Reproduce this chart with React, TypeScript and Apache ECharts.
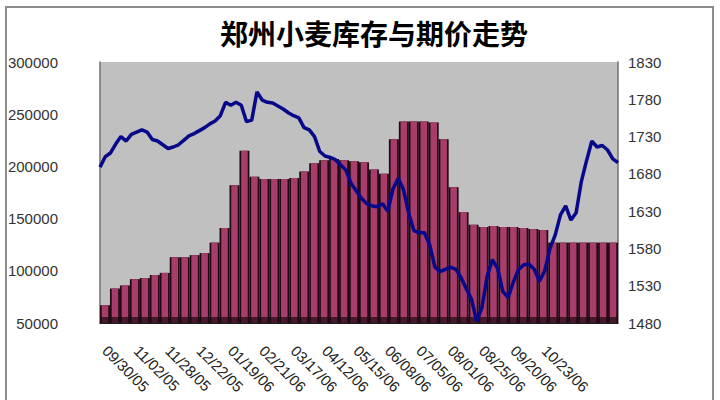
import { useEffect, useRef } from 'react';
import * as echarts from 'echarts';

const TITLE = '郑州小麦库存与期价走势';

// tick labels on the date axis, one every 6 price points starting at index 1
const dateLabels = [
  '09/30/05', '11/02/05', '11/28/05', '12/22/05', '01/19/06', '02/21/06', '03/17/06', '04/12/06',
  '05/15/06', '06/08/06', '07/05/06', '08/01/06', '08/25/06', '09/20/06', '10/23/06',
];
const LABEL_START = 1;
const LABEL_STEP = 6;

// weekly warehouse stock (left axis)
const stockWeekly = [
  67000, 83000, 86000, 92000, 93000, 96000, 98000, 113000, 113000, 115000,
  117000, 127000, 141000, 182000, 215000, 190000, 188000, 188000, 188000, 189000,
  195000, 203000, 206000, 207000, 206000, 205000, 204000, 197000, 193000, 226000,
  243000, 243000, 243000, 242000, 226000, 180000, 156000, 144000, 142000, 143000,
  142000, 142000, 141000, 140000, 139000, 127000, 127000, 127000, 127000, 127000,
  127000, 127000,
];

// futures price (right axis)
const futuresPrice = [
  1689, 1703, 1708, 1720, 1730, 1724, 1733, 1736, 1739, 1736,
  1726, 1724, 1719, 1714, 1716, 1719, 1725, 1731, 1734, 1738,
  1742, 1747, 1751, 1758, 1776, 1772, 1776, 1772, 1750, 1752,
  1790, 1779, 1776, 1775, 1771, 1767, 1762, 1758, 1755, 1742,
  1739, 1730, 1710, 1704, 1702, 1699, 1692, 1685, 1667, 1657,
  1647, 1640, 1637, 1636, 1640, 1630, 1660, 1674, 1659, 1627,
  1604, 1601, 1601, 1585, 1555, 1549, 1552, 1555, 1552, 1541,
  1526, 1512, 1482, 1501, 1543, 1565, 1553, 1522, 1514, 1535,
  1552, 1558, 1559, 1552, 1536, 1550, 1580, 1598, 1625, 1637,
  1618, 1628, 1670, 1698, 1724, 1716, 1718, 1712, 1700, 1695,
];

const STOCK_MIN = 50000;
const STOCK_MAX = 300000;
const STOCK_STEP = 50000;
const PRICE_MIN = 1480;
const PRICE_MAX = 1830;
const PRICE_STEP = 50;

const FONT = '"Liberation Sans", Arial, sans-serif';

export default function App() {
  const ref = useRef<HTMLDivElement | null>(null);

  useEffect(() => {
    document.body.style.margin = '0';
    if (!ref.current) return;
    const chart = echarts.init(ref.current, undefined, { renderer: 'svg' });

    const weeks = stockWeekly.map((_, i) => `W${i + 1}`);
    const days = futuresPrice.map((_, i) => {
      const k = (i - LABEL_START) / LABEL_STEP;
      return Number.isInteger(k) && k >= 0 && k < dateLabels.length ? dateLabels[k] : '';
    });

    chart.setOption({
      animation: false,
      backgroundColor: '#ffffff',
      graphic: [
        {
          type: 'rect',
          shape: { x: 6, y: 7, width: 707, height: 420 },
          style: { fill: 'none', stroke: '#8c8c8c', lineWidth: 2 },
          silent: true,
        },
        {
          // dark floor strip along the bottom of the columns
          type: 'rect',
          shape: { x: 100, y: 317, width: 518, height: 6 },
          style: { fill: '#1e0812', opacity: 0.7 },
          silent: true,
          z: 4,
        },
        {
          type: 'text',
          x: 374,
          y: 33,
          style: {
            text: TITLE,
            fill: '#000',
            font: 'bold 28px "Noto Sans CJK SC", sans-serif',
            textAlign: 'center',
            textVerticalAlign: 'middle',
          },
        },
      ],
      grid: {
        left: 100,
        right: 102,
        top: 62,
        height: 261,
        show: true,
        backgroundColor: '#c0c0c0',
        borderWidth: 0,
        containLabel: false,
        outerBoundsMode: 'none',
      },
      xAxis: [
        {
          type: 'category',
          position: 'bottom',
          data: weeks,
          show: false,
        },
        {
          type: 'category',
          position: 'bottom',
          data: weeks,
          show: false,
        },
        {
          type: 'category',
          position: 'bottom',
          data: days,
          boundaryGap: false,
          axisLine: { show: true, lineStyle: { color: '#202020', width: 1 } },
          axisTick: { show: false },
          splitLine: { show: false },
          axisLabel: {
            interval: 0,
            rotate: -45,
            margin: 25,
            color: '#222',
            fontSize: 15,
            fontFamily: FONT,
          },
        },
      ],
      yAxis: [
        {
          type: 'value',
          min: STOCK_MIN,
          max: STOCK_MAX,
          interval: STOCK_STEP,
          axisLine: { show: true, lineStyle: { color: '#707070', width: 1.5 } },
          axisTick: { show: false },
          splitLine: { show: false },
          axisLabel: {
            margin: 42,
            color: '#333',
            fontSize: 15,
            fontFamily: FONT,
            formatter: (v: number) => String(v),
          },
        },
        {
          type: 'value',
          min: PRICE_MIN,
          max: PRICE_MAX,
          interval: 10,
          axisLine: { show: true, lineStyle: { color: '#707070', width: 1.5 } },
          axisTick: { show: false },
          splitLine: { show: false },
          axisLabel: {
            margin: 10,
            color: '#333',
            fontSize: 15,
            fontFamily: FONT,
            formatter: (v: number) => ((v - PRICE_MIN) % PRICE_STEP === 0 ? String(v) : ''),
          },
        },
      ],
      series: [
        {
          name: 'stock-shadow',
          type: 'bar',
          xAxisIndex: 0,
          yAxisIndex: 0,
          data: stockWeekly,
          barCategoryGap: '0%',
          itemStyle: { color: '#1e0812' },
          silent: true,
          z: 2,
        },
        {
          name: '库存',
          type: 'bar',
          xAxisIndex: 1,
          yAxisIndex: 0,
          data: stockWeekly,
          barWidth: '66%',
          itemStyle: { color: '#a83c6a' },
          z: 3,
        },
        {
          name: '期价',
          type: 'line',
          xAxisIndex: 2,
          yAxisIndex: 1,
          data: futuresPrice,
          symbol: 'none',
          lineStyle: { color: '#08088a', width: 3.5 },
          z: 5,
        },
      ],
    });

    return () => {
      chart.dispose();
    };
  }, []);

  return <div ref={ref} style={{ width: 720, height: 400 }} />;
}
